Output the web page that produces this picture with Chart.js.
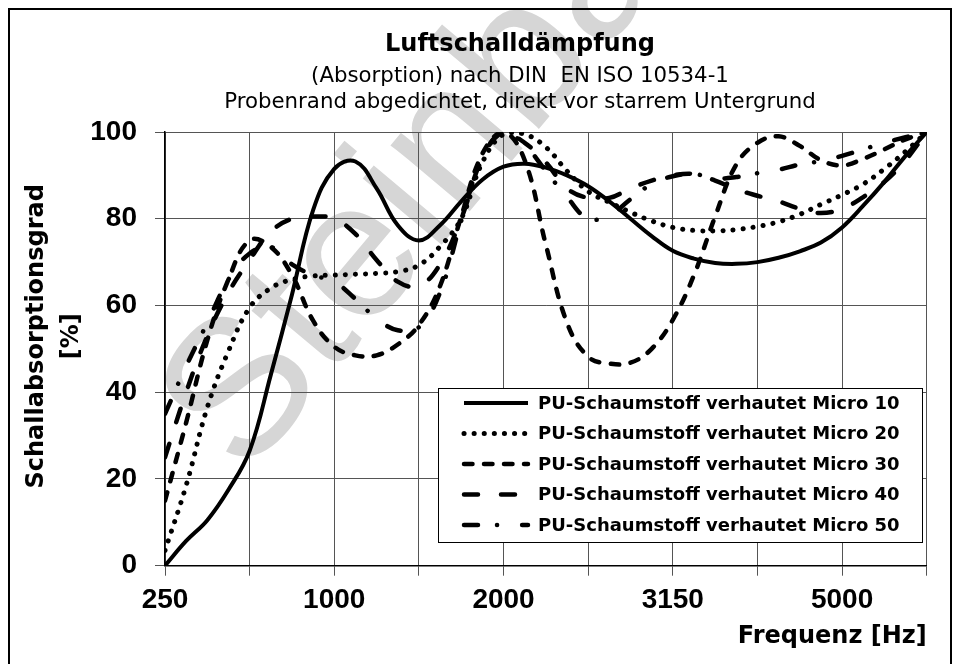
<!DOCTYPE html>
<html>
<head>
<meta charset="utf-8">
<script src="https://cdn.jsdelivr.net/npm/chart.js@4.4.1/dist/chart.umd.min.js"></script>
<style>
  html, body { margin: 0; padding: 0; background: #fff; }
  canvas { display: block; }
</style>
</head>
<body>
<canvas id="chart" width="961" height="664"></canvas>
<script>
// data, x in grid steps (0 = 250 Hz ... 9 = right edge)
const xPos = [0, 0.25, 0.5, 0.75, 1, 1.25, 1.5, 1.75, 2, 2.25, 2.5, 2.75, 3, 3.25, 3.5, 3.75, 4, 4.25, 4.5, 4.75, 5, 5.25, 5.5, 5.75, 6, 6.25, 6.5, 6.75, 7, 7.25, 7.5, 7.75, 8, 8.25, 8.5, 8.75, 9];
const tickLabels = ['250', '', '1000', '', '2000', '', '3150', '', '5000', ''];

const micro10 = [0, 5.7, 10.5, 17.5, 26.5, 44, 62.5, 82, 91.5, 93.2, 87, 78.5, 75, 78.5, 84, 89, 92, 92.7, 91.8, 90, 87.5, 84, 80, 76, 72.6, 70.8, 69.8, 69.6, 70, 71, 72.5, 74.5, 78, 83, 88.5, 94.5, 100];
const micro20 = [3.5, 18.5, 36.5, 49.5, 59.5, 64, 66, 66.8, 67, 67.2, 67.4, 67.8, 69.3, 73.6, 80, 93, 99.5, 99.5, 96.5, 91, 86.3, 83.8, 81.5, 79.5, 78, 77.3, 77.2, 77.5, 78.2, 79.3, 81, 83.3, 85.5, 88, 91.5, 95.5, 100];
const micro30 = [15, 33, 52, 66, 75, 73.5, 67, 56.5, 50.5, 48.5, 48.5, 51, 55.5, 64.5, 80.5, 95, 100, 93.5, 74, 56, 48.2, 46.6, 46.8, 50, 56.7, 67, 80.5, 92.5, 97.5, 99, 96.8, 93.5, 92.3, 93.8, 96, 98.3, 100];
const micro40 = [25, 40, 53, 63, 70.5, 77, 80, 80.5, 80, 76.5, 70.5, 65.5, 64.5, 69.5, 80, 94, 100, 97.5, 93, 87, 84.8, 84.8, 87, 88.8, 90, 90.3, 88.8, 86.8, 85.3, 84, 82.3, 81.3, 82.3, 85, 88.5, 93.5, 100];
const micro50 = [35, 46, 56, 66, 72, 73.5, 69.5, 67, 65.5, 61.5, 57, 54.3, 55, 63, 79.5, 94, 100, 97, 91, 85, 80, 80.8, 84.5, 88, 89.8, 90.3, 89.3, 89.6, 90.5, 91.3, 92.5, 93.3, 94.5, 96, 97.5, 98.8, 100];

const seriesNames = [
  'PU-Schaumstoff verhautet Micro 10',
  'PU-Schaumstoff verhautet Micro 20',
  'PU-Schaumstoff verhautet Micro 30',
  'PU-Schaumstoff verhautet Micro 40',
  'PU-Schaumstoff verhautet Micro 50'
];
const chartTitle = 'Luftschalldämpfung';
const chartSubtitle = ['(Absorption) nach DIN  EN ISO 10534-1', 'Probenrand abgedichtet, direkt vor starrem Untergrund'];
const watermark = 'Steinbach';

const toPoints = (vals) => vals.map((v, i) => ({ x: xPos[i], y: v }));

const lineStyle = [
  { borderWidth: 4, borderDash: [], borderCapStyle: 'butt' },
  { borderWidth: 5, borderDash: [0.1, 10], borderCapStyle: 'round' },
  { borderWidth: 4.5, borderDash: [8.5, 11.5], borderCapStyle: 'round' },
  { borderWidth: 4.5, borderDash: [14, 23], borderCapStyle: 'round' },
  { borderWidth: 4.5, borderDash: [14, 19, 0.1, 25], borderCapStyle: 'round' }
];

const allSeries = [micro10, micro20, micro30, micro40, micro50];
const datasets = allSeries.map((vals, i) => Object.assign({
  label: seriesNames[i],
  data: toPoints(vals),
  borderColor: '#000',
  backgroundColor: '#000',
  fill: false,
  pointRadius: 0,
  tension: 0.4
}, lineStyle[i]));

// white page, watermark and frame
const backdrop = {
  id: 'backdrop',
  beforeDraw(chart) {
    const ctx = chart.ctx;
    ctx.save();
    ctx.fillStyle = '#fff';
    ctx.fillRect(0, 0, chart.width, chart.height);
    ctx.translate(245, 479);
    ctx.rotate(-50 * Math.PI / 180);
    ctx.fillStyle = '#d6d6d6';
    ctx.font = '195px "Liberation Sans"';
    ctx.textBaseline = 'alphabetic';
    ctx.fillText(watermark, 0, 0);
    ctx.restore();

    ctx.save();
    ctx.strokeStyle = '#000';
    ctx.lineWidth = 2;
    ctx.beginPath();
    ctx.moveTo(9, 664);
    ctx.lineTo(9, 9);
    ctx.lineTo(951, 9);
    ctx.lineTo(951, 664);
    ctx.stroke();
    ctx.restore();
  }
};

// titles and the legend box inside the plot
const overlay = {
  id: 'overlay',
  afterDraw(chart) {
    const ctx = chart.ctx;
    ctx.save();
    ctx.fillStyle = '#000';
    ctx.textAlign = 'center';
    ctx.textBaseline = 'middle';
    ctx.font = 'bold 24px "DejaVu Sans"';
    ctx.fillText(chartTitle, 520, 45);
    ctx.font = '21.3px "DejaVu Sans"';
    chartSubtitle.forEach((t, i) => ctx.fillText(t, 520, 76 + i * 26));

    ctx.fillStyle = '#fff';
    ctx.fillRect(438, 388, 484, 154);
    ctx.strokeStyle = '#000';
    ctx.lineWidth = 1;
    ctx.strokeRect(438.5, 388.5, 484, 154);

    chart.data.datasets.forEach((ds, i) => {
      const y = 403 + i * 30.5;
      ctx.beginPath();
      ctx.setLineDash(ds.borderDash);
      ctx.lineCap = ds.borderCapStyle;
      ctx.lineWidth = ds.borderWidth;
      ctx.strokeStyle = '#000';
      ctx.moveTo(464, y);
      ctx.lineTo(528, y);
      ctx.stroke();
      ctx.setLineDash([]);
      ctx.fillStyle = '#000';
      ctx.textAlign = 'left';
      ctx.font = 'bold 18px "DejaVu Sans"';
      ctx.fillText(ds.label, 538, y + 1);
    });
    ctx.restore();
  }
};

const tickFont = { family: '"Liberation Sans", Arial', size: 28, weight: 'bold' };

new Chart('chart', {
  type: 'line',
  data: { datasets: datasets },
  plugins: [backdrop, overlay],
  options: {
    responsive: false,
    animation: false,
    layout: { padding: { top: 132, left: 12, right: 34.3, bottom: 0 } },
    plugins: {
      legend: { display: false },
      tooltip: { enabled: false }
    },
    scales: {
      x: {
        type: 'linear',
        min: 0,
        max: 9,
        afterFit: (scale) => { scale.height = 98.3; },
        grid: { color: '#555', tickLength: 10, drawTicks: true },
        border: { color: '#000', width: 1.5 },
        ticks: {
          stepSize: 1,
          autoSkip: false,
          maxRotation: 0,
          padding: 8,
          color: '#000',
          font: tickFont,
          callback: (v) => tickLabels[v]
        },
        title: {
          display: true,
          text: 'Frequenz [Hz]',
          align: 'end',
          color: '#000',
          font: { family: '"DejaVu Sans"', size: 24, weight: 'bold', lineHeight: 1.2 },
          padding: { top: 0, bottom: 12.6 }
        }
      },
      y: {
        min: 0,
        max: 100,
        afterFit: (scale) => { scale.width = 153; },
        grid: { color: '#555', tickLength: 10, drawTicks: true },
        border: { color: '#000', width: 1.5 },
        ticks: {
          stepSize: 20,
          padding: 18,
          color: '#000',
          font: tickFont
        },
        title: {
          display: true,
          text: ['   Schallabsorptionsgrad', '   [%]'],
          color: '#000',
          font: { family: '"DejaVu Sans"', size: 24, weight: 'bold', lineHeight: 1.45 },
          padding: { top: 7.1, bottom: 0 }
        }
      }
    }
  }
});
</script>
</body>
</html>
